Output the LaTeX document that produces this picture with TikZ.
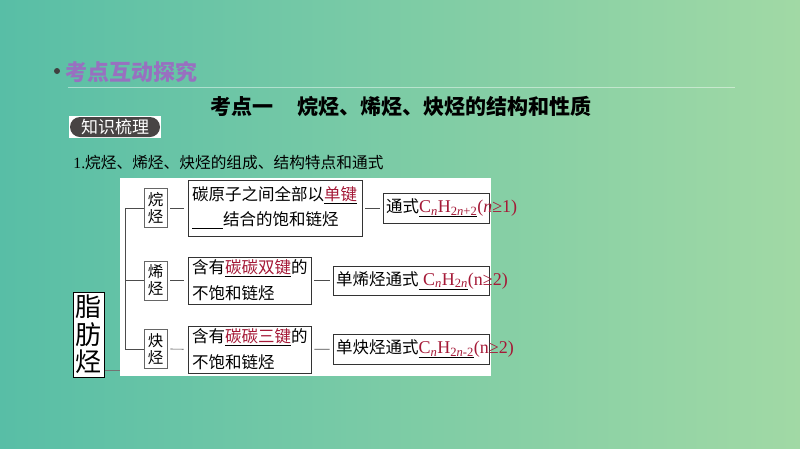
\documentclass[tikz,border=0pt]{standalone}
\usepackage{fontspec}
\setmainfont{Noto Sans CJK SC}
\newfontfamily\lat{Liberation Serif}
\usepackage{tikz}

\definecolor{bgleft}{RGB}{88,190,166}
\definecolor{bgright}{RGB}{161,217,165}
\definecolor{secpurple}{RGB}{152,112,192}
\definecolor{keyred}{RGB}{165,25,55}
\definecolor{tagdark}{RGB}{72,68,68}

\newcommand{\keyword}[1]{\underline{\textcolor{keyred}{#1}}}
\newcommand{\fml}[2]{{\lat\underline{\textcolor{keyred}{#1}}\textcolor{keyred}{#2}}}

\begin{document}
\begin{tikzpicture}[x=1pt, y=-1pt, line width=0.8pt]

		\tikzset{
			sidebox/.style={draw=black!60, fill=white, line width=0.6pt, minimum width=23pt, minimum height=39pt, inner sep=0pt, align=center, font=\fontsize{15.5}{17}\selectfont},
			textbox/.style={draw=black!80, fill=white, inner xsep=4pt, inner ysep=0pt, align=left},
			formbox/.style={draw=black!80, fill=white, inner sep=0pt},
			formtext/.style={anchor=west, inner sep=0pt, font=\fontsize{16.5}{18}\selectfont},
			branch/.style={draw=black!70, line width=0.7pt},
		}

		\useasboundingbox (0,0) rectangle (800,448);
		\shade [left color=bgleft, right color=bgright] (0,0) rectangle (800,448);

		% heading
		\fill [black!75] (57,71) circle [radius=3];
		\node [anchor=west, inner sep=0pt, text=secpurple, font=\bfseries\fontsize{22}{22}\selectfont] (sect) at (65,72) {考点互动探究};
		\draw [white, opacity=0.45] (68,87) -- (735,87);
		\node [inner sep=0pt, font=\bfseries\fontsize{21}{21}\selectfont] (title) at (401,107) {考点一\hspace{25pt}烷烃、烯烃、炔烃的结构和性质};

		\fill [white] (69,116) rectangle (161,138);
		\node [fill=tagdark, rounded corners=10pt, minimum width=90pt, minimum height=20pt, inner sep=0pt, text=white, font=\fontsize{17}{17}\selectfont] (tag) at (115,127) {知识梳理};

		\node [anchor=west, inner sep=0pt, font=\fontsize{15.7}{16}\selectfont] (intro) at (73,163) {{\lat 1.}烷烃、烯烃、炔烃的组成、结构特点和通式};

		\fill [white] (120,178) rectangle (491,376);

		% left part
		\node [draw=black, fill=white, line width=1pt, minimum width=31pt, minimum height=85pt, inner sep=0pt, align=center, font=\fontsize{26}{27.5}\selectfont] (zhi) at (88.5,334.5) {脂\\肪\\烃};
		\coordinate (zhiend) at (120,370);
		\draw [branch, black!55] (zhi.east |- zhiend) -- (zhiend);

		\node [sidebox] (wan) at (155.5,208) {烷\\烃};
		\node [sidebox] (xi) at (155.5,280.5) {烯\\烃};
		\node [sidebox] (que) at (155.5,349) {炔\\烃};

		\draw [branch] (wan.west) -- ++(-18,0) |- (que.west);
		\draw [branch] (xi.west) -- ++(-18,0);

		% structure
		\node [textbox, text width=166pt, minimum height=56pt, font=\fontsize{16.5}{25}\selectfont] (p1) at (275,208)
			{碳原子之间全部以\keyword{单键}\\\underline{\hbox to 31pt{\vphantom{结}\hfil}}结合的饱和链烃};
		\node [textbox, text width=115pt, minimum height=47pt, font=\fontsize{16.5}{26}\selectfont] (p2) at (249.5,280.5)
			{含有\keyword{碳碳双键}的\\不饱和链烃};
		\node [textbox, text width=115pt, minimum height=47pt, font=\fontsize{16.5}{26}\selectfont] (p3) at (249.5,349.5)
			{含有\keyword{碳碳三键}的\\不饱和链烃};

		% general formula
		\node [formbox, minimum width=106pt, minimum height=30pt] (f1) at (436,208) {};
		\node [formbox, minimum width=156pt, minimum height=29pt] (f2) at (411,280.5) {};
		\node [formbox, minimum width=156pt, minimum height=30pt] (f3) at (411,349) {};

		\node [formtext] (f1t) at ([xshift=3pt]f1.west) {通式\fml{\fontsize{18}{18}\selectfont C\textsubscript{\textit{n}}H\textsubscript{2\textit{n}+2}}{\fontsize{18}{18}\selectfont(\textit{n}≥1)}};
		\node [formtext] (f2t) at ([xshift=3pt]f2.west) {单烯烃通式\fml{\fontsize{18}{18}\selectfont\ C\textsubscript{\textit{n}}H\textsubscript{2\textit{n}}}{\fontsize{18}{18}\selectfont(n≥2)}};
		\node [formtext] (f3t) at ([xshift=3pt]f3.west) {单炔烃通式\fml{\fontsize{18}{18}\selectfont C\textsubscript{\textit{n}}H\textsubscript{2\textit{n}-2}}{\fontsize{18}{18}\selectfont(n≥2)}};

		\draw [branch, shorten <=3pt, shorten >=4pt] (wan) -- (p1);
		\draw [branch, shorten <=3pt, shorten >=4pt] (xi) -- (p2);
		\draw [branch, shorten <=3pt, shorten >=4pt] (que) -- (p3);
		\draw [branch, shorten <=3pt, shorten >=3pt] (p1) -- (f1);
		\draw [branch, shorten <=3pt, shorten >=3pt] (p2) -- (f2);
		\draw [branch, shorten <=3pt, shorten >=3pt] (p3) -- (f3);
\end{tikzpicture}
\end{document}
